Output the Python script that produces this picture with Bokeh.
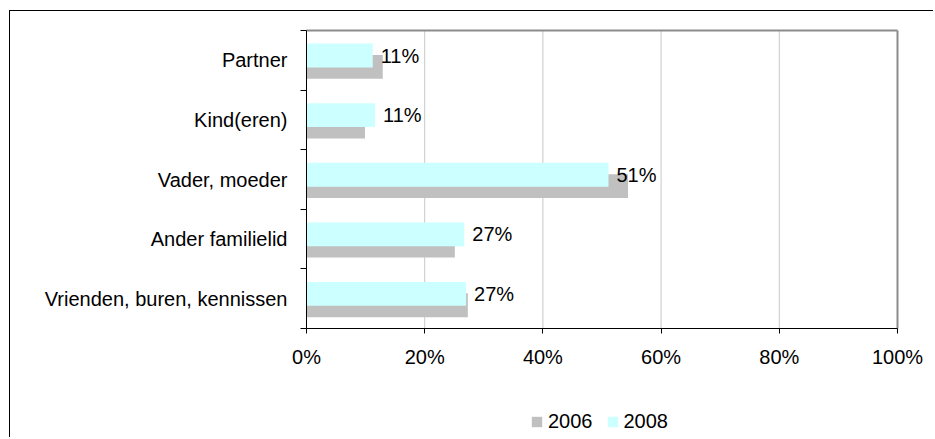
from bokeh.plotting import figure
from bokeh.models import Range1d, FixedTicker, PrintfTickFormatter, Legend, LegendItem
from bokeh.core.properties import value
from bokeh.embed import file_html
from bokeh.resources import INLINE

categories = ["Partner", "Kind(eren)", "Vader, moeder", "Ander familielid", "Vrienden, buren, kennissen"]
values_2006 = [12.9, 9.9, 54.4, 25.1, 27.3]
values_2008 = [11.2, 11.6, 51.1, 26.7, 27.0]
labels_2008 = ["11%", "11%", "51%", "27%", "27%"]
x_ticks = [0, 20, 40, 60, 80, 100]
series_names = ["2006", "2008"]

FONT = "Liberation Sans"
n = len(categories)
ypos = [n - 0.5 - i for i in range(n)]
xmax = x_ticks[-1]

# layout (pixels inside the canvas; the frame covers the whole canvas)
W, H = 924, 427
PA_LEFT, PA_RIGHT = 296, 887      # plot-area left / right
PA_TOP, PA_BOTTOM = 19, 317       # plot-area top / bottom
xu = (PA_RIGHT - PA_LEFT) / xmax
yu = (PA_BOTTOM - PA_TOP) / n
x_start, x_end = -PA_LEFT / xu, xmax + (W - PA_RIGHT) / xu
y_start, y_end = -(H - PA_BOTTOM) / yu, n + PA_TOP / yu

p = figure(width=W, height=H, output_backend="svg", toolbar_location=None,
           x_range=Range1d(x_start, x_end), y_range=Range1d(y_start, y_end),
           min_border=0)
p.margin = (10, 0, 0, 9)
p.styles = {"border-left": "1px solid black", "border-top": "1px solid black"}
p.background_fill_color = "white"
p.border_fill_color = "white"
p.outline_line_color = None

# grid lines and plot-area border
p.segment(x0=x_ticks[1:-1], y0=0, x1=x_ticks[1:-1], y1=n, line_color="#C8C8C8", line_width=1)
p.segment(x0=[0, xmax], y0=[n, 0], x1=[xmax, xmax], y1=[n, n], line_color="#8c8c8c", line_width=2)

g06 = p.hbar(y=[y - 0.11 for y in ypos], left=0, right=values_2006, height=0.4,
             fill_color="#C0C0C0", line_color=None)
g08 = p.hbar(y=[y + 0.08 for y in ypos], left=0, right=values_2008, height=0.4,
             fill_color="#CCFFFF", line_color=None)
p.text(x=values_2008, y=[y + 0.08 for y in ypos], text=labels_2008, x_offset=8,
       text_baseline="middle", text_align="left", text_font=value(FONT),
       text_font_size="20px", text_color="black")

# x axis
p.xaxis.fixed_location = 0
p.xaxis.bounds = (0, xmax)
p.xaxis.ticker = FixedTicker(ticks=x_ticks, minor_ticks=[])
p.xaxis.formatter = PrintfTickFormatter(format="%d%%")
p.xaxis.major_tick_out = 5
p.xaxis.major_tick_in = 0
p.xaxis.axis_line_color = "black"
p.xaxis.major_tick_line_color = "black"
p.xaxis.major_label_standoff = 12
p.xaxis.major_label_text_font = FONT
p.xaxis.major_label_text_font_size = "20px"
p.xaxis.major_label_text_color = "black"

# y axis
p.yaxis.fixed_location = 0
p.yaxis.bounds = (0, n)
p.yaxis.ticker = FixedTicker(ticks=ypos, minor_ticks=list(range(n + 1)))
p.yaxis.major_label_overrides = {y: c for y, c in zip(ypos, categories)}
p.yaxis.major_tick_line_color = None
p.yaxis.major_tick_out = 0
p.yaxis.major_tick_in = 0
p.yaxis.minor_tick_line_color = "black"
p.yaxis.minor_tick_out = 6
p.yaxis.minor_tick_in = 0
p.yaxis.axis_line_color = "black"
p.yaxis.major_label_standoff = 13
p.yaxis.major_label_text_font = FONT
p.yaxis.major_label_text_font_size = "20px"
p.yaxis.major_label_text_color = "black"

p.xgrid.grid_line_color = None
p.ygrid.grid_line_color = None

legend = Legend(items=[LegendItem(label=series_names[0], renderers=[g06]),
                       LegendItem(label=series_names[1], renderers=[g08])],
                orientation="horizontal", location=(520, 5),
                glyph_width=13, glyph_height=13, label_standoff=5, spacing=13,
                padding=0, margin=0, border_line_color=None, background_fill_alpha=0,
                label_text_font=FONT, label_text_font_size="20px", label_text_color="black")
p.add_layout(legend)

open("out.html", "w").write(file_html(p, INLINE))
